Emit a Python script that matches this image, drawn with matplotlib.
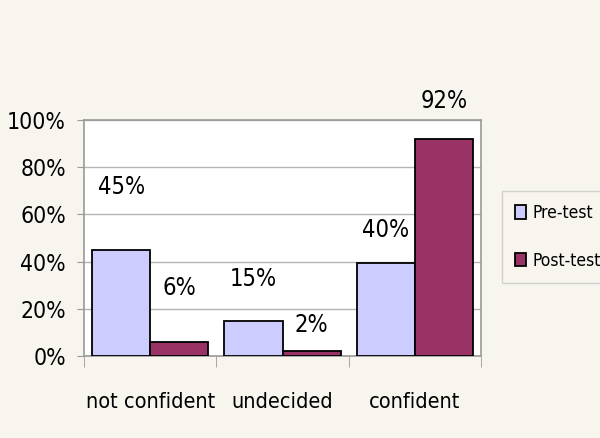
import matplotlib.pyplot as plt
import numpy as np

categories = ["not confident", "undecided", "confident"]
pre_test = [45, 15, 39.5]
post_test = [6, 2, 92]
pre_labels = ["45%", "15%", "40%"]
post_labels = ["6%", "2%", "92%"]
y_ticks = [0, 20, 40, 60, 80, 100]

# label offsets above bar tops (points), as placed in the original
pre_offsets = [45, 30, 24]
post_offsets = [39, 19, 27]

plt.rcParams["font.family"] = ["DejaVu Sans", "Liberation Sans"]
plt.rcParams["font.stretch"] = "condensed"

bg = "#f8f5ee"
fig = plt.figure(figsize=(6, 4.38), dpi=100, facecolor=bg)
ax = fig.add_axes([0.14, 0.187, 0.662, 0.539])
ax.set_facecolor("white")

x = np.arange(len(categories))
width = 0.44
b1 = ax.bar(x - width / 2, pre_test, width, color="#ccccff", edgecolor="black",
            linewidth=1.3, label="Pre-test", zorder=3)
b2 = ax.bar(x + width / 2, post_test, width, color="#993366", edgecolor="black",
            linewidth=1.3, label="Post-test", zorder=3)

for bars, labels, offs in [(b1, pre_labels, pre_offsets), (b2, post_labels, post_offsets)]:
    for bar, lab, off in zip(bars, labels, offs):
        ax.annotate(lab, (bar.get_x() + bar.get_width() / 2, bar.get_height()),
                    xytext=(0, off), textcoords="offset points",
                    ha="center", va="center", fontsize=17, clip_on=False)

ax.set_xlim(-0.5, len(categories) - 0.5)
ax.set_ylim(0, 100)
ax.set_yticks(y_ticks)
ax.set_yticklabels([f"{v}%" for v in y_ticks], fontsize=16.5)
ax.yaxis.grid(True, color="#b4b4b4", linewidth=1, zorder=0)

ax.set_xticks(x)
ax.set_xticklabels(categories, fontsize=15.5)
ax.tick_params(axis="x", length=0, pad=26)
ax.set_xticks(np.arange(-0.5, len(categories)), minor=True)
ax.tick_params(axis="x", which="minor", length=8, color="#999999", direction="out")
ax.tick_params(axis="y", length=5, color="#999999", pad=8)

for s in ax.spines.values():
    s.set_color("#999999")
    s.set_linewidth(1.2)

leg = fig.legend(handles=[b1, b2], loc="upper left", bbox_to_anchor=(0.837, 0.564),
                 frameon=True, fontsize=12.5, handlelength=0.6, handleheight=0.85,
                 handletextpad=0.4, labelspacing=1.7, borderpad=0.75,
                 borderaxespad=0, fancybox=False, facecolor=bg, edgecolor="#c8c8c8")
leg.get_frame().set_linewidth(1)

fig.savefig("out.png", dpi=100, facecolor=bg)
